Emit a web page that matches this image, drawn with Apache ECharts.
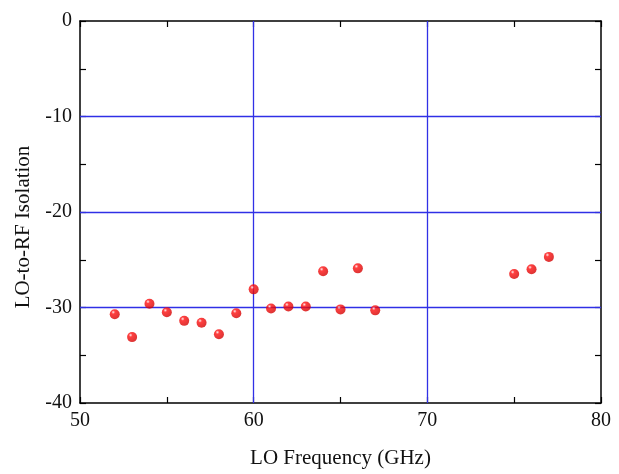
<!DOCTYPE html>
<html>
<head>
<meta charset="utf-8">
<script src="https://cdn.jsdelivr.net/npm/echarts@6/dist/echarts.min.js"></script>
<style>
  html, body { margin: 0; padding: 0; background: #fff; }
  #chart { width: 619px; height: 474px; }
</style>
</head>
<body>
<div id="chart"></div>
<script>
// LO frequency (GHz) and measured LO-to-RF isolation (dB)
const freqs = [52, 53, 54, 55, 56, 57, 58, 59, 60, 61, 62, 63, 64, 65, 66, 67, 75, 76, 77];
const isolation = [-30.7, -33.1, -29.6, -30.5, -31.4, -31.6, -32.8, -30.6, -28.1, -30.1, -29.9, -29.9, -26.2, -30.2, -25.9, -30.3, -26.5, -26.0, -24.7];

const xRange = [50, 80];
const yRange = [-40, 0];
const xGrid = [60, 70];
const yGrid = [-10, -20, -30];

const font = 'Liberation Serif, Times New Roman, serif';
const gridBlue = '#3030e6';

// plain framed axis: black line, inward major + minor ticks
function frameAxis(extra) {
  return Object.assign({
    type: 'value',
    axisLine: { show: true, onZero: false, lineStyle: { color: '#000', width: 1.5 } },
    axisTick: { show: true, inside: true, length: 6, lineStyle: { color: '#000', width: 1.2 } },
    minorTick: { show: true, splitNumber: 2, length: 6, lineStyle: { color: '#000', width: 1.2 } },
    splitLine: { show: false },
    axisLabel: { show: false },
  }, extra);
}

const chart = echarts.init(document.getElementById('chart'));
chart.setOption({
  animation: false,
  grid: { left: 80, right: 18, top: 21, bottom: 69 },
  xAxis: [
    frameAxis({
      min: xRange[0], max: xRange[1], interval: 10,
      name: 'LO Frequency (GHz)', nameLocation: 'middle', nameGap: 45,
      nameTextStyle: { fontFamily: font, fontSize: 21, color: '#111' },
      axisLabel: { show: true, fontFamily: font, fontSize: 20, color: '#111', margin: 8 },
    }),
    frameAxis({ position: 'top', min: xRange[0], max: xRange[1], interval: 10 }),
  ],
  yAxis: [
    frameAxis({
      min: yRange[0], max: yRange[1], interval: 10,
      name: 'LO-to-RF Isolation', nameLocation: 'middle', nameGap: 46,
      nameTextStyle: { fontFamily: font, fontSize: 21, color: '#111', padding: [0, 30, 0, 0] },
      axisLabel: { show: true, fontFamily: font, fontSize: 20, color: '#111', margin: 8 },
    }),
    frameAxis({ position: 'right', min: yRange[0], max: yRange[1], interval: 10 }),
  ],
  series: [{
    type: 'scatter',
    data: freqs.map((f, i) => [f, isolation[i]]),
    symbol: 'circle',
    symbolSize: 10,
    itemStyle: {
      color: new echarts.graphic.RadialGradient(0.35, 0.3, 0.75, [
        { offset: 0, color: '#ffe8e8' },
        { offset: 0.25, color: '#ff1010' },
        { offset: 1, color: '#d00000' },
      ]),
    },
    markLine: {
      silent: true,
      symbol: 'none',
      label: { show: false },
      lineStyle: { color: gridBlue, width: 1.3, type: 'solid' },
      data: xGrid.map((v) => ({ xAxis: v })).concat(yGrid.map((v) => ({ yAxis: v }))),
    },
    z: 5,
  }],
});
</script>
</body>
</html>
